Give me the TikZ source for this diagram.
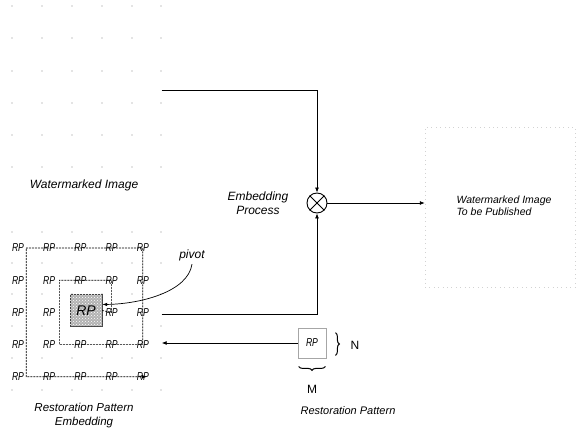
\documentclass[tikz,border=0pt]{standalone}
\usepackage{fontspec}
\setmainfont{Liberation Sans}
\usepackage{graphicx}
\usetikzlibrary{arrows.meta,positioning,patterns,decorations.pathreplacing}

\newcommand{\rptext}{\scalebox{0.75}[1]{RP}}

\begin{document}
\begin{tikzpicture}[
  x=1pt, y=-1pt,
  font=\fontsize{12}{14}\selectfont\itshape,
  frame/.style={minimum width=150pt, minimum height=161pt, inner sep=0pt},
  rp/.style={inner sep=1pt, font=\fontsize{11.5}{12}\selectfont\itshape},
  pivotcell/.style={draw=black!75, fill=gray!60, minimum size=32pt, inner sep=0pt,
    postaction={pattern=crosshatch dots, pattern color=white},
    font=\fontsize{14}{14}\selectfont\itshape},
  spiral/.style={dash pattern=on 2pt off 1pt, line width=0.7pt},
  arrow/.style={-{Latex[length=5pt,width=4pt]}, line width=0.8pt},
  dotgrid/.style={fill=black!45},
  brace/.style={decorate, decoration={brace, amplitude=4pt}, line width=1pt}
]

\useasboundingbox (0,0) rectangle (579,428);

% watermarked image
\node[frame] (wmimg) at (86.5,86.5) {};
\foreach \gx in {12,42,72,102,132,161}
  \foreach \gy in {6,38,71,103,135,167}
    \fill[dotgrid] (\gx,\gy) circle (0.6pt);
\node (wmcap) at (84,185) {Watermarked Image};

% restoration pattern embedding
\node[frame] (rpimg) at (86.5,311) {};
\foreach \gx in {12,42,72,102,132,161}
  \foreach \gy in {232,263,294,326,358,390}
    \fill[dotgrid] (\gx,\gy) circle (0.6pt);
\node[pivotcell] (pivc) at (86,310.5) {RP};
\foreach \i in {1,...,5}
  \foreach \j in {1,...,5}{
    \ifnum\i\j=33 \else
      \node[rp] (r\i\j) at ({18+31.2*(\i-1)},{248+32.2*(\j-1)}) {\rptext};
    \fi
  }
\draw[spiral, -{Latex[length=5pt,width=4pt]}] (pivc.east) -- (r43.center) -- (r42.center)
  -- ([xshift=3pt]r22.east) |- (r54.center) -- (r51.center)
  -- ([xshift=1pt]r11.east) |- ([xshift=4pt]r55.center);
\node[align=center, font=\fontsize{11.5}{14}\selectfont\itshape] (rpecap) at (84,416)
  {Restoration Pattern\\Embedding};

\node (pivlbl) at (192,255) {pivot};
\draw[-{Latex[length=5pt,width=3.5pt]}, line width=0.7pt] (pivlbl.south)
  .. controls (188,292) and (140,304) .. ([yshift=6pt]pivc.east);

% embedding process
\node[draw, circle, minimum size=20pt, inner sep=0pt, line width=0.9pt] (mult) at (317,203) {};
\draw[line width=0.9pt] (mult.north west) -- (mult.south east)
  (mult.north east) -- (mult.south west);
\node[align=center] (embproc) at (258,203) {Embedding\\Process};

% published image
\node[frame, draw=gray!35, loosely dotted, minimum height=160pt] (pubimg) at (500,207) {};
\node[align=left, anchor=west, font=\fontsize{10.5}{12}\selectfont\itshape] (pubcap) at (453,206)
  {Watermarked Image\\To be Published};

% restoration pattern
\node[rp, draw=gray!70, line width=0.8pt, minimum width=28pt, minimum height=30pt] (rpbox) at (312,343) {\rptext};
\draw[brace] ([xshift=9pt,yshift=-5pt]rpbox.north east) -- ([xshift=9pt,yshift=3pt]rpbox.south east);
\draw[brace] ([xshift=-1pt,yshift=-8pt]rpbox.south east) -- ([xshift=1pt,yshift=-8pt]rpbox.south west);
\node[font=\fontsize{12}{13}\selectfont] (nlbl) at (355,345) {N};
\node[font=\fontsize{12}{13}\selectfont] (mlbl) at (312,389) {M};
\node[font=\fontsize{11}{13}\selectfont\itshape] (rpcap) at (348,411) {Restoration Pattern};

% connectors
\draw[arrow] ([yshift=-3.5pt]wmimg.east) -| (mult.north);
\draw[arrow] (mult.east) -- (mult.east -| pubimg.west);
\draw[arrow] ([yshift=-3pt]rpimg.east) -| (mult.south);
\draw[arrow] (rpbox.west) -- (rpbox.west -| rpimg.east);

\end{tikzpicture}
\end{document}
